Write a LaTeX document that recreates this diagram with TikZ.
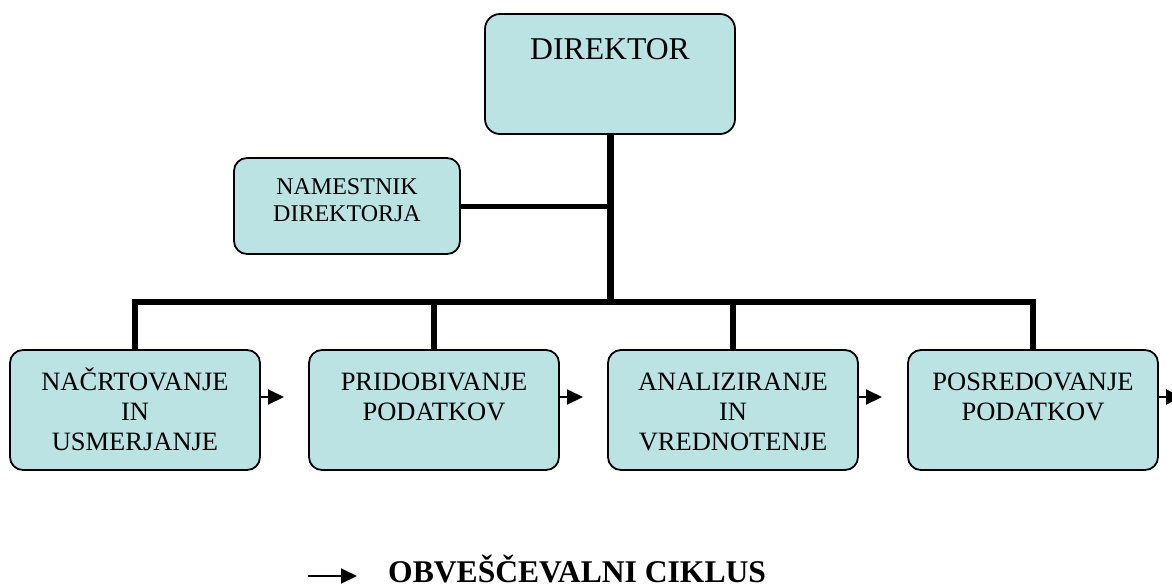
\documentclass[tikz,border=0pt]{standalone}
\usepackage{fontspec}
\setmainfont{Liberation Serif}
\usetikzlibrary{arrows.meta}
\definecolor{boxfill}{RGB}{187,227,227}
\tikzset{
  box/.style={draw, line width=1.8pt, rounded corners=13pt, fill=boxfill,
    minimum width=250pt, minimum height=120pt, inner sep=0pt},
  boxtext/.style={align=center, anchor=base, inner sep=0pt,
    font=\fontsize{26.5}{30}\selectfont},
  tree/.style={line width=6.5pt},
  flow/.style={line width=2pt, -{Triangle[length=16pt, width=15pt]}},
}
\begin{document}
\begin{tikzpicture}[x=1pt, y=-1pt]
    \useasboundingbox (0,0) rectangle (1172,587);
    % vodstvo
    \node[box, rounded corners=15pt] (dir) at (610,74) {};
    \node[boxtext, font=\fontsize{31.7}{36}\selectfont] (dirt) at (610,59) {DIREKTOR};
    \node[box, minimum width=226pt, minimum height=96pt] (nam) at (347,206) {};
    \node[boxtext, font=\fontsize{24}{27}\selectfont] (namt) at (347,221) {NAMESTNIK\\DIREKTORJA};
    % obvescevalni ciklus (base = zadnja vrstica)
    \foreach \i/\x/\yb/\txt in {1/135/450/{NAČRTOVANJE\\IN\\USMERJANJE},
                                2/434/420/{PRIDOBIVANJE\\PODATKOV},
                                3/733/450/{ANALIZIRANJE\\IN\\VREDNOTENJE},
                                4/1033/420/{POSREDOVANJE\\PODATKOV}} {
        \node[box] (n\i) at (\x,410) {};
        \node[boxtext] (t\i) at (\x,\yb) {\txt};
        \coordinate (a\i) at (\x+149,397);
        \draw[flow] (n\i.east |- a\i) -- (a\i);
    }
    % povezave
    \coordinate (bus) at (609,302);
    \draw[line width=7pt] (dir.south) -- (dir.south |- bus);
    \draw[line width=5pt] (nam.east) -- (nam.east -| dir.south);
    \draw[tree] (n1.north) |- (bus) -| (n4.north);
    \draw[tree] (n2.north) -- (n2.north |- bus);
    \draw[tree] (n3.north) -- (n3.north |- bus);
    % legenda
    \coordinate (l0) at (308,576);
    \coordinate (l1) at (357,576);
    \draw[flow] (l0) -- (l1);
    \node[anchor=base west, inner sep=0pt, font=\bfseries\fontsize{31.6}{36}\selectfont] (leg) at (388,582) {OBVEŠČEVALNI CIKLUS};
\end{tikzpicture}
\end{document}
